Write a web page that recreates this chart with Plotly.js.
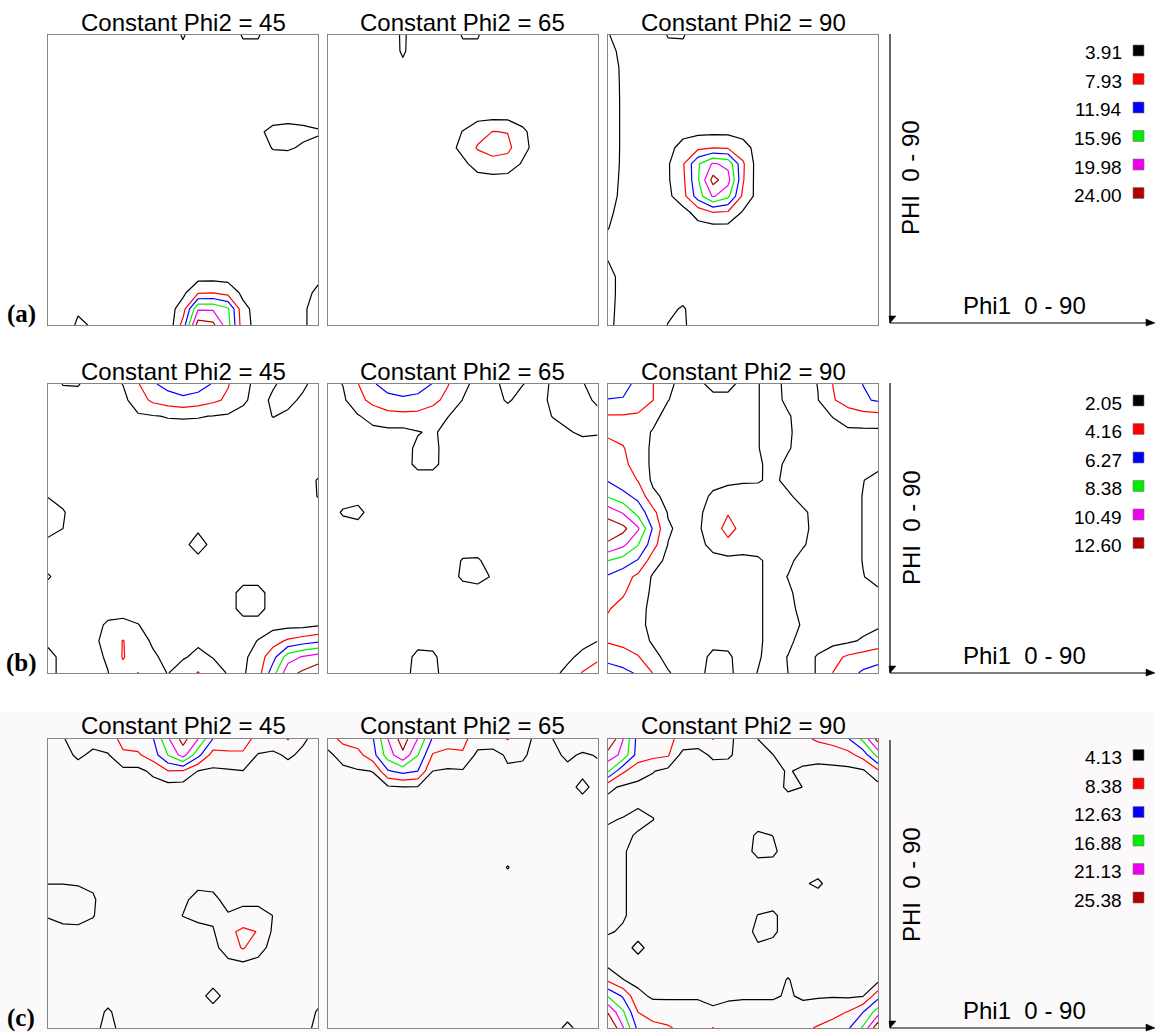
<!DOCTYPE html>
<html>
<head>
<meta charset="utf-8">
<script src="https://cdn.plot.ly/plotly-3.0.1.min.js"></script>
<style>html,body{margin:0;padding:0;background:#fff;}#chart{width:1155px;height:1032px;}</style>
</head>
<body>
<div id="chart"></div>
<script>
// ---------------- DATA ----------------
const phiGrid = [0,5,10,15,20,25,30,35,40,45,50,55,60,65,70,75,80,85,90];
const phi2Sections = [45, 65, 90];
const rowLabels = ['(a)', '(b)', '(c)'];
const levelsA = [3.91, 7.93, 11.94, 15.96, 19.98, 24.00];
const levelsB = [2.05, 4.16, 6.27, 8.38, 10.49, 12.60];
const levelsC = [4.13, 8.38, 12.63, 16.88, 21.13, 25.38];
const levelColors = ['#000000', '#ff0000', '#0000ff', '#00ee00', '#ee00ee', '#b00000'];

// rows: PHI 0..90 (top to bottom), columns: Phi1 0..90
const zA45 = [
[2,2,2,2,2,2,2,2,1.5,4.3,1.5,2,2,4.2,4.2,2,2,2,2],
[2.5,2.5,2.5,2.5,2.5,2.5,2.5,2.5,2.5,3,2.5,2.5,2.5,3,3,2.5,2.5,2.5,2.5],
[2.5,2.5,2.5,2.5,2.5,2.5,2.5,2.5,2.5,2.5,2.5,2.5,2.5,2.5,2.5,2.5,2.5,2.5,2.5],
[2.5,2.5,2.5,2.5,2.5,2.5,2.5,2.5,2.5,2.5,2.5,2.5,2.5,2.5,2.5,2.5,2.5,2.5,2.5],
[2.5,2.5,2.5,2.5,2.5,2.5,2.5,2.5,2.5,2.5,2.5,2.5,2.5,2.5,2.5,2.5,2.5,2.5,2.5],
[2.5,2.5,2.5,2.5,2.5,2.5,2.5,2.5,2.5,2.5,2.5,2.5,2.5,2.5,2.5,3,3,3,3],
[2.5,2.5,2.5,2.5,2.5,2.5,2.5,2.5,2.5,2.5,2.5,2.5,2.5,2.5,3.5,4.5,4.8,4.5,4.1],
[2.5,2.5,2.5,2.5,2.5,2.5,2.5,2.5,2.5,2.5,2.5,2.5,2.5,2.5,2.5,4.1,4.2,3.6,3.4],
[2.5,2.5,2.5,2.5,2.5,2.5,2.5,2.5,2.5,2.5,2.5,2.5,2.5,2.5,2.5,2.5,2.5,2.5,2.5],
[2.5,2.5,2.5,2.5,2.5,2.5,2.5,2.5,2.5,2.5,2.5,2.5,2.5,2.5,2.5,2.5,2.5,2.5,2.5],
[2.5,2.5,2.5,2.5,2.5,2.5,2.5,2.5,2.5,2.5,2.5,2.5,2.5,2.5,2.5,2.5,2.5,2.5,2.5],
[2.5,2.5,2.5,2.5,2.5,2.5,2.5,2.5,2.5,2.5,2.5,2.5,2.5,2.5,2.5,2.5,2.5,2.5,2.5],
[2.5,2.5,2.5,2.5,2.5,2.5,2.5,2.5,2.5,2.5,2.5,2.5,2.5,2.5,2.5,2.5,2.5,2.5,2.5],
[2.5,2.5,2.5,2.5,2.5,2.5,2.5,2.5,2.5,2.5,2.5,2.5,2.5,2.5,2.5,2.5,2.5,2.5,2.5],
[2.5,2.5,2.5,2.5,2.5,2.5,2.5,2.5,2.5,2.5,2.5,2.5,2.5,2.5,2.5,2.5,2.5,2.5,2.5],
[2.5,2.5,2.5,2.5,2.5,2.5,2.5,2.5,2.5,2.5,2.5,2.5,2.5,2.5,2.5,2.5,2.5,2.5,3.5],
[2.5,2.5,2.5,2.5,2.5,2.5,2.5,2.5,2.5,3,7.5,7.8,6.5,3,2.5,2.5,2.5,3.3,4.3],
[2.5,2.5,3.6,2.5,2.5,2.5,2.5,2.5,2,6,19.5,19.5,16.5,5,2.5,2.5,2.5,3.7,4.5],
[2.5,2.5,4.3,3.7,2.5,2.5,2.5,2.5,1,9.5,26,25,17.5,5.5,2.5,2.5,2.5,3.7,4.5]
];
const zA65 = [
[2.5,2.5,2.5,2.5,1.5,4.6,1.5,2.5,1.5,4.2,4.2,1.5,2.5,2.5,2.5,2.5,2.5,2.5,2.5],
[2.5,2.5,2.5,2.5,1.5,4.5,1.5,2.5,2.5,3,3,2.5,2.5,2.5,2.5,2.5,2.5,2.5,2.5],
[2.5,2.5,2.5,2.5,2.5,3,2.5,2.5,2.5,2.5,2.5,2.5,2.5,2.5,2.5,2.5,2.5,2.5,2.5],
[2.5,2.5,2.5,2.5,2.5,2.5,2.5,2.5,2.5,2.5,2.5,2.5,2.5,2.5,2.5,2.5,2.5,2.5,2.5],
[2.5,2.5,2.5,2.5,2.5,2.5,2.5,2.5,2.5,2.5,2.5,2.5,2.5,2.5,2.5,2.5,2.5,2.5,2.5],
[2.5,2.5,2.5,2.5,2.5,2.5,2.5,2.5,2.5,2.5,2.5,2.5,2.5,2.5,2.5,2.5,2.5,2.5,2.5],
[2.5,2.5,2.5,2.5,2.5,2.5,2.5,2.5,2.5,4,6.5,8,7.8,4.5,2.5,2.5,2.5,2.5,2.5],
[2.5,2.5,2.5,2.5,2.5,2.5,2.5,2.5,2.5,5,8.3,9.5,9,5,2.5,2.5,2.5,2.5,2.5],
[2.5,2.5,2.5,2.5,2.5,2.5,2.5,2.5,2.5,3,5.5,6.5,6,3.5,2.5,2.5,2.5,2.5,2.5],
[2.5,2.5,2.5,2.5,2.5,2.5,2.5,2.5,2.5,2.5,2.5,2.5,2.5,2.5,2.5,2.5,2.5,2.5,2.5],
[2.5,2.5,2.5,2.5,2.5,2.5,2.5,2.5,2.5,2.5,2.5,2.5,2.5,2.5,2.5,2.5,2.5,2.5,2.5],
[2.5,2.5,2.5,2.5,2.5,2.5,2.5,2.5,2.5,2.5,2.5,2.5,2.5,2.5,2.5,2.5,2.5,2.5,2.5],
[2.5,2.5,2.5,2.5,2.5,2.5,2.5,2.5,2.5,2.5,2.5,2.5,2.5,2.5,2.5,2.5,2.5,2.5,2.5],
[2.5,2.5,2.5,2.5,2.5,2.5,2.5,2.5,2.5,2.5,2.5,2.5,2.5,2.5,2.5,2.5,2.5,2.5,2.5],
[2.5,2.5,2.5,2.5,2.5,2.5,2.5,2.5,2.5,2.5,2.5,2.5,2.5,2.5,2.5,2.5,2.5,2.5,2.5],
[2.5,2.5,2.5,2.5,2.5,2.5,2.5,2.5,2.5,2.5,2.5,2.5,2.5,2.5,2.5,2.5,2.5,2.5,2.5],
[2.5,2.5,2.5,2.5,2.5,2.5,2.5,2.5,2.5,2.5,2.5,2.5,2.5,2.5,2.5,2.5,2.5,2.5,2.5],
[2.5,2.5,2.5,2.5,2.5,2.5,2.5,2.5,2.5,2.5,2.5,2.5,2.5,2.5,2.5,2.5,2.5,2.5,2.5],
[2.5,2.5,2.5,2.5,2.5,2.5,2.5,2.5,2.5,2.5,2.5,2.5,2.5,2.5,2.5,2.5,2.5,2.5,2.5]
];
const zA90 = [
[4.1,2.5,2.5,2,4.1,4.2,2,2.5,2.5,2.5,2.5,2.5,2.5,2.5,2.5,2.5,2.5,2.5,2.5],
[5,3,2.5,2.5,3,3,2.5,2.5,2.5,2.5,2.5,2.5,2.5,2.5,2.5,2.5,2.5,2.5,2.5],
[5.5,3.3,2.5,2.5,2.5,2.5,2.5,2.5,2.5,2.5,2.5,2.5,2.5,2.5,2.5,2.5,2.5,2.5,2.5],
[5.8,3.3,2.5,2.5,2.5,2.5,2.5,2.5,2.5,2.5,2.5,2.5,2.5,2.5,2.5,2.5,2.5,2.5,2.5],
[6,3.3,2.5,2.5,2.5,2.5,2.5,2.5,2.5,2.5,2.5,2.5,2.5,2.5,2.5,2.5,2.5,2.5,2.5],
[6,3.3,2.5,2.5,2.5,2.5,2.5,2.5,2.5,2.5,2.5,2.5,2.5,2.5,2.5,2.5,2.5,2.5,2.5],
[6,3.3,2.5,2.5,2.5,3,3,3,3,2.5,2.5,2.5,2.5,2.5,2.5,2.5,2.5,2.5,2.5],
[6,3.3,2.5,2.5,3,5,7,7.8,7.5,5.5,2.5,2.5,2.5,2.5,2.5,2.5,2.5,2.5,2.5],
[5.8,3.3,2.5,2.5,3.5,7.5,15.5,20.5,19,8.5,2,2.5,2.5,2.5,2.5,2.5,2.5,2.5,2.5],
[5.5,3.2,2.5,2.5,3.5,7,15.5,25.5,21.5,8.3,2,2.5,2.5,2.5,2.5,2.5,2.5,2.5,2.5],
[5.2,3.1,2.5,2.5,3,6.5,14,20.5,17,7,2.5,2.5,2.5,2.5,2.5,2.5,2.5,2.5,2.5],
[4.5,2.9,2.5,2.5,2.5,2.5,5.5,8,7.5,3.5,2.5,2.5,2.5,2.5,2.5,2.5,2.5,2.5,2.5],
[4,2.5,2.5,2.5,2.5,2.5,2.5,2.5,2.5,2.5,2.5,2.5,2.5,2.5,2.5,2.5,2.5,2.5,2.5],
[3,2.5,2.5,2.5,2.5,2.5,2.5,2.5,2.5,2.5,2.5,2.5,2.5,2.5,2.5,2.5,2.5,2.5,2.5],
[3.9,2.5,2.5,2.5,2.5,2.5,2.5,2.5,2.5,2.5,2.5,2.5,2.5,2.5,2.5,2.5,2.5,2.5,2.5],
[5,2.8,2.5,2.5,2.5,2.5,2.5,2.5,2.5,2.5,2.5,2.5,2.5,2.5,2.5,2.5,2.5,2.5,2.5],
[5,2.8,2.5,2.5,2.5,2.8,2.5,2.5,2.5,2.5,2.5,2.5,2.5,2.5,2.5,2.5,2.5,2.5,2.5],
[4.8,2.8,2.5,2.5,3.3,4.2,2.5,2.5,2.5,2.5,2.5,2.5,2.5,2.5,2.5,2.5,2.5,2.5,2.5],
[4.6,2.8,2.5,2.5,4,4.5,2,2.5,2.5,2.5,2.5,2.5,2.5,2.5,2.5,2.5,2.5,2.5,2.5]
];
const zB45 = [
[1.4,2.1,2.15,1.4,1.4,2.1,4,6,7,7.5,7.3,6.1,4.3,2.6,1.5,1.9,2.5,2.3,1.5],
[1.4,1.5,1.5,1.4,1.4,1.5,3.2,4.6,5.3,5.8,5.3,4.6,3.8,2.3,1.5,2.3,2.4,1.8,1.4],
[1.4,1.4,1.4,1.4,1.4,1.4,1.8,1.95,2.15,2.2,2.15,2,1.8,1.6,1.4,2.1,1.8,1.4,1.4],
[1.4,1.4,1.4,1.4,1.4,1.4,1.4,1.4,1.4,1.4,1.4,1.4,1.4,1.4,1.4,1.5,1.4,1.4,1.4],
[1.4,1.4,1.4,1.4,1.4,1.4,1.4,1.4,1.4,1.4,1.4,1.4,1.4,1.4,1.4,1.4,1.4,1.4,1.4],
[1.4,1.4,1.4,1.4,1.4,1.4,1.4,1.4,1.4,1.4,1.4,1.4,1.4,1.4,1.4,1.4,1.4,1.4,1.4],
[1.4,1.4,1.4,1.4,1.4,1.4,1.4,1.4,1.4,1.4,1.4,1.4,1.4,1.4,1.4,1.4,1.4,1.4,2.15],
[2,1.5,1.4,1.4,1.4,1.4,1.4,1.4,1.4,1.4,1.4,1.4,1.4,1.4,1.4,1.4,1.4,1.4,2.1],
[2.8,2.2,1.2,1.4,1.4,1.4,1.4,1.4,1.4,1.4,1.4,1.4,1.4,1.4,1.4,1.4,1.4,1.4,1.4],
[2.6,2.05,1.4,1.4,1.4,1.4,1.4,1.4,1.4,1.4,1.7,1.4,1.4,1.4,1.4,1.4,1.4,1.4,1.4],
[1.6,1.4,1.4,1.4,1.4,1.4,1.4,1.4,1.4,1.4,3,1.4,1.4,1.4,1.4,1.4,1.4,1.4,1.4],
[1.4,1.4,1.4,1.4,1.4,1.4,1.4,1.4,1.4,1.4,1.4,1.4,1.4,1.4,1.4,1.4,1.4,1.4,1.4],
[2.2,1.4,1.4,1.4,1.4,1.4,1.4,1.4,1.4,1.4,1.4,1.4,1.4,1.4,1.4,1.4,1.4,1.4,1.4],
[1.4,1.4,1.4,1.4,1.4,1.4,1.4,1.4,1.4,1.4,1.4,1.4,1.4,2.6,2.6,1.4,1.4,1.4,1.4],
[1.4,1.4,1.4,1.4,1.4,1.4,1.4,1.4,1.4,1.4,1.4,1.4,1.4,2.6,2.6,1.4,1.4,1.4,1.4],
[1.4,1.4,1.4,1.5,2.3,2.5,2.1,1.5,1.4,1.4,1.4,1.4,1.4,1.4,1.4,1.4,1.4,1.4,1.8],
[1.6,1.4,1.4,1.7,2.6,4.25,2.8,1.8,1.4,1.4,1.8,1.4,1.4,1.5,2.1,3.3,4.5,5.2,5.8],
[2.7,1.5,1.4,1.5,2.3,4.3,3,2.3,1.6,1.9,2.4,2,1.5,1.6,3,5.5,9.5,10.7,11.5],
[2.7,1.5,1.2,1.6,2,3.5,4.2,2.6,2,2.8,4.3,2.7,1.95,1.8,3.2,7.5,11.9,13,14]
];
const zB65 = [
[1.5,2.1,4.1,6.1,6.9,7.2,7,6.2,4.3,2.5,1.5,1.6,2.6,2.1,1.6,2.2,2.4,2.1,1.7],
[1.4,1.7,3.5,4.8,5.8,6,5.8,4.8,3.5,2,1.3,1.4,2.25,1.5,1.6,2.3,2.5,2.3,1.9],
[1.4,1.4,1.9,2.8,3.3,3.5,3.4,3,2.1,1.4,1.4,1.4,1.3,1.4,1.4,2.1,2.5,2.5,2.3],
[1.4,1.4,1.4,1.5,1.6,1.5,1.95,2.3,1.5,1.4,1.4,1.4,1.4,1.4,1.4,1.5,1.9,2.3,2.2],
[1.4,1.4,1.4,1.4,1.4,1.4,2.4,2.5,1.4,1.4,1.4,1.4,1.4,1.4,1.4,1.4,1.4,1.4,1.4],
[1.4,1.4,1.4,1.4,1.4,1.5,2.4,2.4,1.5,1.4,1.4,1.4,1.4,1.4,1.4,1.4,1.4,1.4,1.4],
[1.4,1.4,1.4,1.4,1.4,1.4,1.4,1.4,1.4,1.4,1.4,1.4,1.4,1.4,1.4,1.4,1.4,1.4,1.4],
[1.4,1.5,1.5,1.4,1.4,1.4,1.4,1.4,1.4,1.4,1.4,1.4,1.4,1.4,1.4,1.4,1.4,1.4,1.4],
[1.4,2.2,2.5,1.4,1.4,1.4,1.4,1.4,1.4,1.4,1.4,1.4,1.4,1.4,1.4,1.4,1.4,1.4,1.4],
[1.4,1.5,1.5,1.4,1.4,1.4,1.4,1.4,1.4,1.4,1.4,1.4,1.4,1.4,1.4,1.4,1.4,1.4,1.4],
[1.4,1.4,1.4,1.4,1.4,1.4,1.4,1.4,1.4,1.4,1.4,1.4,1.4,1.4,1.4,1.4,1.4,1.4,1.4],
[1.4,1.4,1.4,1.4,1.4,1.4,1.4,1.4,1.4,2.15,2.2,1.5,1.4,1.4,1.4,1.4,1.4,1.4,1.4],
[1.4,1.4,1.4,1.4,1.4,1.4,1.4,1.4,1.4,2.3,2.6,1.9,1.4,1.4,1.4,1.4,1.4,1.4,1.4],
[1.4,1.4,1.4,1.4,1.4,1.4,1.4,1.4,1.4,1.4,1.4,1.4,1.4,1.4,1.4,1.4,1.4,1.4,1.4],
[1.4,1.4,1.4,1.4,1.4,1.4,1.4,1.4,1.4,1.4,1.4,1.4,1.4,1.4,1.4,1.4,1.4,1.4,1.4],
[1.4,1.4,1.4,1.4,1.4,1.4,1.4,1.4,1.4,1.4,1.4,1.4,1.4,1.4,1.4,1.4,1.4,1.4,1.4],
[1.4,1.4,1.4,1.4,1.4,1.4,1.6,1.6,1.4,1.4,1.4,1.4,1.4,1.4,1.4,1.4,1.4,1.4,2.0],
[1.4,1.4,1.4,1.4,1.4,1.5,2.4,2.3,1.4,1.4,1.4,1.4,1.4,1.4,1.4,1.4,1.6,2.6,3.8],
[1.4,1.4,1.4,1.4,1.4,1.6,2.5,2.4,1.5,1.4,1.4,1.4,1.4,1.4,1.4,1.5,2.6,4.3,5.0]
];
const zB90 = [
[7.2,6.6,6,4.2,2.5,1.4,1.7,2.5,2.5,1.6,2,2.6,1.6,1.4,2.1,4.2,5.2,6.3,7],
[6.2,6.2,5.2,4.2,2.1,1.4,1.4,1.6,1.6,1.4,2,2.6,1.7,1.4,2,4,5,6,6.5],
[4,4,3.9,2.6,1.4,1.4,1.4,1.4,1.4,1.4,2,2.6,2.2,1.4,1.6,2.1,3.2,3.4,3.5],
[3.8,3.5,2.8,1.9,1.4,1.4,1.4,1.4,1.4,1.4,2,2.6,2.3,1.4,1.4,1.6,1.6,1.6,1.6],
[4.8,4.3,3,1.7,1.4,1.4,1.4,1.4,1.4,1.4,2,2.6,2.2,1.4,1.4,1.4,1.4,1.5,1.4],
[5.5,4.8,3,1.7,1.4,1.4,1.4,1.4,1.4,1.4,1.8,2.6,1.7,1.4,1.4,1.4,1.4,1.4,1.6],
[6.1,5,4.1,1.6,1.4,1.4,1.4,1.6,1.8,1.9,1.9,2.4,1.6,1.4,1.4,1.4,1.4,2,2.6],
[8.2,7,5.7,2.6,1.4,1.4,1.5,2.3,2.6,2.7,2.8,2.8,2.3,1.5,1.4,1.4,1.4,2.1,2.8],
[11.8,10.3,7.6,4.8,1.9,1.4,1.8,2.6,4,3,2.8,2.8,2.7,2.3,1.5,1.4,1.4,2.1,2.9],
[13.8,13.2,10.8,6,2.3,1.5,1.8,3,5,3.4,2.8,2.8,2.7,2.4,1.5,1.4,1.4,2.1,3],
[12.3,11,8.5,5,2,1.4,1.5,2.6,3.5,3,2.8,2.8,2.7,2.2,1.4,1.4,1.4,2.1,3],
[8.4,7.5,6.1,3,1.5,1.4,1.4,1.5,1.5,1.5,1.8,2.6,2.4,1.5,1.4,1.4,1.4,2.1,2.9],
[6,5,3.7,1.8,1.4,1.4,1.4,1.4,1.4,1.4,1.8,2.6,2,1.4,1.4,1.4,1.4,2,2.5],
[5,4.4,3,1.7,1.4,1.4,1.4,1.4,1.4,1.4,1.8,2.6,2.3,1.5,1.4,1.4,1.4,1.4,1.8],
[4.3,3.5,2.6,1.6,1.4,1.4,1.4,1.4,1.4,1.4,1.8,2.6,2.5,1.6,1.4,1.4,1.4,1.4,1.4],
[3.8,3.3,2.5,1.6,1.4,1.4,1.4,1.4,1.4,1.4,1.8,2.6,2.6,1.9,1.4,1.4,1.4,1.4,1.8],
[3.9,3.6,2.9,1.8,1.4,1.4,1.4,1.6,1.6,1.4,1.8,2.6,2.4,1.5,1.4,1.4,1.7,2.3,2.8],
[5.8,5,4.3,2.6,1.5,1.4,1.5,2.4,2.3,1.4,1.9,2.6,2,1.4,2.2,3.5,4.5,5,5.6],
[7,6.9,6,4.1,2.2,1.4,1.6,2.6,2.4,1.4,2.1,2.6,2.05,1.4,2.2,4.2,5.5,6.6,7]
];
const zC45 = [
[2.5,4,5,5,6.5,9.5,10.5,12.3,20.5,27,21.2,12.5,10,9.5,7.5,6,8.6,4.6,3],
[2.5,3.2,4.6,3.6,3.8,7.8,7.8,10.5,17,23,14,6.5,7.8,8,3.8,3.5,4.6,3.5,3],
[3,2.8,3,3,3,3,3,5,8.2,8,4,3.5,3.6,4,3,3,3,3,3],
[3,3,3,3,3,3,3,2.5,2.5,2.3,3,3,3,3,3,3,3,3,3],
[3,3,3,3,3,3,3,3,3,3,3,3,3,3,3,3,3,3,3],
[3,3,3,3,3,3,3,3,3,3,3,3,3,3,3,3,3,3,3],
[3,3,3,3,3,3,3,3,3,3,3,3,3,3,3,3,3,3,3],
[3,3,3,3,3,3,3,3,3,3,3,3,3,3,3,3,3,3,3],
[3,3,3,3,3,3,3,3,3,3,3,3,3,3,3,3,3,3,3],
[4.1,4.1,4,3.6,3,3,3,3,3,3,3.5,3.6,3,3,3,3,3,3,3],
[4.8,5,4.9,4.5,2.5,3,3,3,3,3.6,5,4.6,3.5,3.5,3.5,3,3,3,3],
[4.3,4.7,4.7,4.3,2.5,3,3,3,3,4.2,5,4.8,4.3,5,5,4.1,2.8,3,3],
[3.2,3.6,3.7,3,3,3,3,3,3,3,3,3.8,7.2,9.5,8.2,3.5,3,3,3],
[3,3,3,3,3,3,3,3,3,3,3,3,6,8.8,5.5,3,3,3,3],
[3,3,3,3,3,3,3,3,3,3,3,3,3.2,3.5,3.2,3,3,3,3],
[3,3,3,3,3,3,3,3,3,3,3,3,3,3,3,3,3,3,3],
[3,3,3,3,3,3,3,3,3,3,3,5.2,3,3,3,3,3,3,3.5],
[3,3,3,3,4.5,3,3,3,3,3,3,3,3,3,3,3,3,3.2,4.3],
[3,3,3,3.5,4.8,3.5,3,3,3,3,3,3,3,3,3,3,3,3.5,4.6]
];
const zC65 = [
[6.5,9.5,10.5,12.3,21.1,27.5,21,12,10.5,9.3,6.5,6,8.6,5,3.5,4.1,5.5,5.8,5.5],
[3,6,7,11,19,24.5,17,8,7,8,3,3,4.6,4.5,3.2,3.5,4.6,3.8,4.3],
[3,3,3.8,4.2,12.2,14,12.6,4.1,3.6,3.7,3.2,3.3,3.7,3.5,3,3,3.5,3.3,3.5],
[3,3,3,3.2,3.5,4,3.8,3,3,3,3,3,3,3,3,3,3,5,3],
[3,3,3,3,3,3,3,3,3,3,3,3,3,3,3,3,3,3,3],
[3,3,3,3,3,3,3,3,3,3,3,3,3,3,3,3,3,3,3],
[3,3,3,3,3,3,3,3,3,3,3,3,3,3,3,3,3,3,3],
[3,3,3,3,3,3,3,3,3,3,3,3,3,3,3,3,3,3,3],
[3,3,3,3,3,3,3,3,3,3,3,3,4.25,3,3,3,3,3,3],
[3,3,3,3,3,3,3,3,3,3,3,3,3,3,3,3,3,3,3],
[3,3,3,3,3,3,3,3,3,3,3,3,3,3,3,3,3,3,3],
[3,3,3,3,3,3,3,3,3,3,3,3,3,3,3,3,3,3,3],
[3,3,3,3,3,3,3,3,3,3,3,3,3,3,3,3,3,3,3],
[3,3,3,3,3,3,3,3,3,3,3,3,3,3,3,3,3,3,3],
[3,3,3,3,3,3,3,3,3,3,3,3,3,3,3,3,3,3,3],
[3,3,3,3,3,3,3,3,3,3,3,3,3,3,3,3,3,3,3],
[3,3,3,3,3,3,3,3,3,3,3,3,3,3,3,3,3,3,3],
[3,3,3,3,3,3,3,3,3,3,3,3,3,3,3,3,3,3,3],
[3,3,3,3,3,3,3,3,3,3,3,3,3,3,3,3,4.8,3,3]
];
const zC90 = [
[30,21.2,11,10,9,7.5,5.5,8.5,4.5,3.5,4.14,5,6,7.5,9,10,12.2,18,27],
[23.4,20,10.5,9.5,8.8,2.5,3.2,4.6,4.5,3.2,3.5,4.1,5,5.5,5.5,6,7,10,18.5],
[17.5,9,6,4.3,3,3,3,3,3,3,3,3.2,4.4,3.5,3,3,3,3.5,7.5],
[5,3.5,3,3,3,3,3,3,3,3,3,3,4.6,4.1,3,3,3,3,2.5],
[3,3,3.7,3.5,3,3,3,3,3,3,3,3,3,3,3,3,3,3,3],
[3.8,4.3,5,4.2,3,3,3,3,3,3,3,3,3,3,3,3,3,3,3],
[4.8,4.8,3.8,3,3,3,3,3,3,3.2,4.5,4.1,3,3,3,3,3,3,3],
[4.8,4.4,3.2,3,3,3,3,3,3,3.3,4.7,4.5,3.2,3,3,3,3,3,3],
[4.8,4.4,3.2,3,3,3,3,3,3,3,3.3,3.4,3,3,3,3,3,3,3],
[4.8,4.4,3.2,3,3,3,3,3,3,3,3,3,3,3.8,4.6,3,3,3,3],
[4.8,4.4,3.2,3,3,3,3,3,3,3,3,3,3,3,3,3,3,3,3],
[4.8,4.4,3.2,3,3,3,3,3,3,3,4.2,4.6,3,3,3,3,3,3,3],
[4.4,3.8,3,3,3,3,3,3,3,3,4.8,4.6,3,3,3,3,3,3,3],
[3,3,4.9,3,3,3,3,3,3,3,3.8,3.3,3,3,3,3,3,3,3],
[3,3,3,3,3,3,3,3,3,3,3,3,3,3,3,3,3,3,3],
[7.5,4.2,3.2,3,3,3,3,3,3,3,3,3,4.3,3,3,3,3,3,3],
[16.5,12,5,3.6,3.7,3.7,3.7,3.7,3.7,3.7,3.7,3.7,4.5,3.6,3.8,3.8,3.5,3.9,11],
[25,17.5,8.3,6,5.5,5.5,5.5,4.4,5,5.5,5.5,5.5,6,5.5,6,7.5,8.5,12.5,19],
[31,21.5,11.5,10,9,7,6,8.5,5.5,5.5,5.5,5.5,6,7.5,8.8,9.5,12,17.5,29]
];

// ---------------- LAYOUT ----------------
const W = 1155, H = 1032;
const px = x => x / W;
const py = y => 1 - y / H;
const colPx = [[48, 318], [328, 597.5], [608, 878]];
const rowPx = [[35, 325], [384, 673], [739, 1028]];
const titleY = [22, 371, 725];
const labelY = [314, 663, 1018];
const rightAxis = [
  {top: 34, bottom: 323, phiY: 178, phi1Y: 305, legY: 53},
  {top: 383, bottom: 673, phiY: 528, phi1Y: 655, legY: 403},
  {top: 740, bottom: 1028, phiY: 885, phi1Y: 1010, legY: 757.5}
];
const rows = [
  {levels: levelsA, grids: [zA45, zA65, zA90]},
  {levels: levelsB, grids: [zB45, zB65, zB90]},
  {levels: levelsC, grids: [zC45, zC65, zC90]}
];

// discrete colorscale: one colour per contour level index
const colorscale = [];
levelColors.forEach((c, k) => {
  colorscale.push([Math.max(0, (k - 0.5) / 5), c]);
  colorscale.push([Math.min(1, (k + 0.5) / 5), c]);
});

const traces = [];
const layout = {
  width: W, height: H,
  margin: {l: 0, r: 0, t: 0, b: 0},
  paper_bgcolor: '#ffffff',
  plot_bgcolor: 'rgba(0,0,0,0)',
  showlegend: false,
  font: {family: 'Liberation Sans, Arial, sans-serif', color: '#000'},
  annotations: [],
  shapes: [
    {type: 'rect', xref: 'paper', yref: 'paper', x0: 0, x1: 1, y0: 0, y1: py(712),
     fillcolor: '#fcf9fa', line: {width: 0}, layer: 'below'}
  ]
};

const sans = 'Liberation Sans, Arial, sans-serif';
rows.forEach((row, r) => {
  const lv = row.levels;
  const step = (lv[5] - lv[0]) / 5;
  row.grids.forEach((z, c) => {
    const k = r * 3 + c + 1;
    const xa = 'xaxis' + (k === 1 ? '' : k);
    const ya = 'yaxis' + (k === 1 ? '' : k);
    layout[xa] = {
      domain: [px(colPx[c][0]), px(colPx[c][1])], range: [0, 90],
      showticklabels: false, ticks: '', showgrid: false, zeroline: false,
      showline: true, mirror: true, linecolor: '#858585', linewidth: 1,
      anchor: 'y' + (k === 1 ? '' : k), fixedrange: true
    };
    layout[ya] = {
      domain: [py(rowPx[r][1]), py(rowPx[r][0])], range: [90, 0],
      showticklabels: false, ticks: '', showgrid: false, zeroline: false,
      showline: true, mirror: true, linecolor: '#858585', linewidth: 1,
      anchor: 'x' + (k === 1 ? '' : k), fixedrange: true
    };
    traces.push({
      type: 'contour', x: phiGrid, y: phiGrid, z: z,
      xaxis: 'x' + (k === 1 ? '' : k), yaxis: 'y' + (k === 1 ? '' : k),
      autocontour: false,
      contours: {coloring: 'lines', start: lv[0], end: lv[5] + step * 0.001, size: step, showlabels: false},
      colorscale: colorscale, zmin: lv[0], zmax: lv[5],
      line: {width: 1.2, smoothing: 0},
      showscale: false, hoverinfo: 'skip'
    });
    layout.annotations.push({
      xref: 'paper', yref: 'paper', x: px((colPx[c][0] + colPx[c][1]) / 2), y: py(titleY[r]),
      xanchor: 'center', yanchor: 'middle', showarrow: false,
      text: 'Constant Phi2 = ' + phi2Sections[c], font: {family: sans, size: 24, color: '#000'}
    });
  });

  // row label
  layout.annotations.push({
    xref: 'paper', yref: 'paper', x: px(21), y: py(labelY[r]), xanchor: 'center', yanchor: 'middle',
    showarrow: false, text: '<b>' + rowLabels[r] + '</b>',
    font: {family: 'Liberation Serif, Times New Roman, serif', size: 25, color: '#000'}
  });

  // right-hand key: axes sketch
  const ra = rightAxis[r];
  layout.shapes.push({type: 'line', xref: 'paper', yref: 'paper', x0: px(890), x1: px(890), y0: py(ra.top), y1: py(ra.bottom), line: {color: '#000', width: 1.2}});
  layout.shapes.push({type: 'line', xref: 'paper', yref: 'paper', x0: px(890), x1: px(1152), y0: py(ra.bottom), y1: py(ra.bottom), line: {color: '#000', width: 1.2}});
  layout.shapes.push({type: 'path', xref: 'paper', yref: 'paper',
    path: 'M ' + px(889) + ' ' + py(ra.bottom - 7) + ' L ' + px(896) + ' ' + py(ra.bottom - 7) + ' L ' + px(890) + ' ' + py(ra.bottom) + ' Z',
    fillcolor: '#000', line: {color: '#000', width: 0.5}});
  layout.shapes.push({type: 'path', xref: 'paper', yref: 'paper',
    path: 'M ' + px(1146) + ' ' + py(ra.bottom - 4) + ' L ' + px(1155) + ' ' + py(ra.bottom) + ' L ' + px(1146) + ' ' + py(ra.bottom + 3) + ' Z',
    fillcolor: '#000', line: {color: '#000', width: 0.5}});
  layout.annotations.push({
    xref: 'paper', yref: 'paper', x: px(911), y: py(ra.phiY), xanchor: 'center', yanchor: 'middle',
    showarrow: false, textangle: -90, text: 'PHI\u00a0\u00a00 - 90', font: {family: sans, size: 24, color: '#000'}
  });
  layout.annotations.push({
    xref: 'paper', yref: 'paper', x: px(1024), y: py(ra.phi1Y), xanchor: 'center', yanchor: 'middle',
    showarrow: false, text: 'Phi1\u00a0\u00a00 - 90', font: {family: sans, size: 24, color: '#000'}
  });
  // level legend
  lv.forEach((v, i) => {
    const yc = ra.legY + i * 28.5;
    layout.annotations.push({
      xref: 'paper', yref: 'paper', x: px(1124), y: py(yc), xanchor: 'right', yanchor: 'middle',
      showarrow: false, text: v.toFixed(2), font: {family: sans, size: 19, color: '#000'}
    });
    layout.shapes.push({type: 'rect', xref: 'paper', yref: 'paper',
      x0: px(1133), x1: px(1144), y0: py(yc + 3), y1: py(yc - 8),
      fillcolor: levelColors[i], line: {color: '#777', width: 0.6}});
  });
});

Plotly.newPlot('chart', traces, layout, {displayModeBar: false, staticPlot: true});
</script>
</body>
</html>
